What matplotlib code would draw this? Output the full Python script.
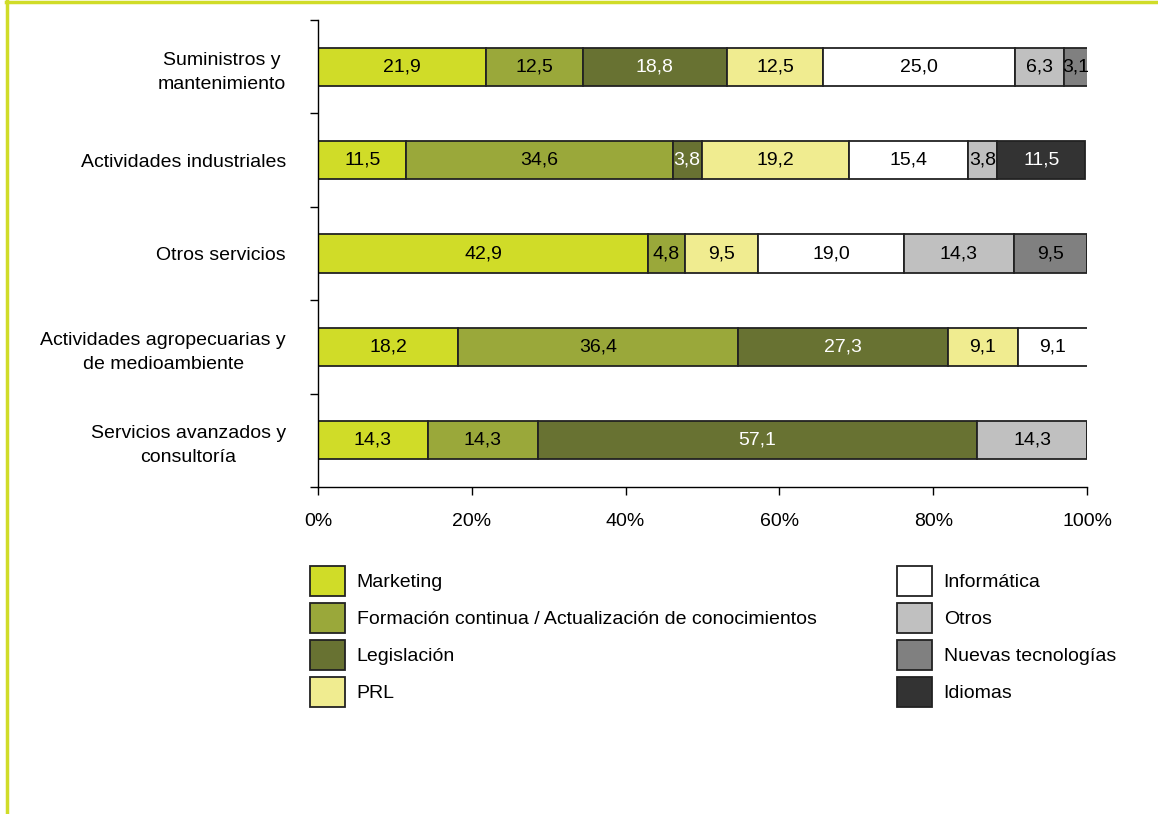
import matplotlib
matplotlib.use("Agg")
import matplotlib.pyplot as plt
import numpy as np
from matplotlib.lines import Line2D
from matplotlib.patches import Patch

plt.rcParams["font.family"] = ["Liberation Sans", "DejaVu Sans"]

categories = [
    "Suministros y\nmantenimiento",
    "Actividades industriales",
    "Otros servicios",
    "Actividades agropecuarias y\nde medioambiente",
    "Servicios avanzados y\nconsultoría",
]
series = [
    "Marketing",
    "Formación continua / Actualización de conocimientos",
    "Legislación",
    "PRL",
    "Informática",
    "Otros",
    "Nuevas tecnologías",
    "Idiomas",
]
marketing = [21.9, 11.5, 42.9, 18.2, 14.3]
formacion = [12.5, 34.6, 4.8, 36.4, 14.3]
legislacion = [18.8, 3.8, 0, 27.3, 57.1]
prl = [12.5, 19.2, 9.5, 9.1, 0]
informatica = [25.0, 15.4, 19.0, 9.1, 0]
otros = [6.3, 3.8, 14.3, 0, 14.3]
nuevas_tec = [3.1, 0, 9.5, 0, 0]
idiomas = [0, 11.5, 0, 0, 0]
values = [marketing, formacion, legislacion, prl, informatica, otros, nuevas_tec, idiomas]

colors = ["#D0DC28", "#9AA83A", "#687232", "#F0EC90", "#FFFFFF", "#C0C0C0", "#808080", "#333333"]
text_colors = ["black", "black", "white", "black", "black", "black", "black", "white"]

FS = 14

fig = plt.figure(figsize=(11.58, 8.14), dpi=100)
ax = fig.add_axes([0.2746, 0.4017, 0.6641, 0.5737])

y = np.arange(len(categories))
left = np.zeros(len(categories))
handles = []
for vals, col, tc, name in zip(values, colors, text_colors, series):
    vals = np.array(vals, dtype=float)
    bars = ax.barh(y, vals, left=left, height=0.41, color=col,
                   edgecolor="#222222", linewidth=1.3)
    for b, v, l in zip(bars, vals, left):
        if v > 0:
            ax.text(l + v / 2, b.get_y() + b.get_height() / 2,
                    f"{v:.1f}".replace(".", ","), ha="center", va="center",
                    fontsize=FS, color=tc)
    left += vals
    handles.append(Patch(facecolor=col, edgecolor="#222222", linewidth=1.3, label=name))

ax.set_xlim(0, 100)
ax.set_ylim(len(categories) - 0.5, -0.5)
ax.set_xticks(np.arange(0, 101, 20))
ax.set_xticklabels([f"{v}%" for v in range(0, 101, 20)], fontsize=FS)
ax.set_yticks(y)
ax.set_yticklabels(categories, fontsize=FS, multialignment="center", linespacing=1.55)
ax.set_yticks(np.arange(-0.5, len(categories), 1), minor=True)
ax.tick_params(axis="y", which="major", length=0, pad=23)
ax.tick_params(axis="y", which="minor", length=6, width=1, direction="out")
ax.tick_params(axis="x", length=6, width=1, direction="out", pad=13)
for s in ["top", "right"]:
    ax.spines[s].set_visible(False)
for s in ["left", "bottom"]:
    ax.spines[s].set_linewidth(1)

leg_kw = dict(frameon=False, fontsize=FS, handlelength=1.8, handleheight=2.0,
              labelspacing=0.36, handletextpad=0.6, borderpad=0, borderaxespad=0)
fig.legend(handles=handles[:4], loc="upper left",
           bbox_to_anchor=(310 / 1158, 1 - 566 / 814), **leg_kw)
fig.legend(handles=handles[4:], loc="upper left",
           bbox_to_anchor=(897 / 1158, 1 - 566 / 814), **leg_kw)

# green frame
fig.add_artist(Line2D([6 / 1158, 1], [1 - 1.5 / 814, 1 - 1.5 / 814],
                      transform=fig.transFigure, color="#D0DC28", linewidth=2.5))
fig.add_artist(Line2D([7 / 1158, 7 / 1158], [1, 1 - 812 / 814],
                      transform=fig.transFigure, color="#D0DC28", linewidth=2.5))

plt.savefig("out.png", dpi=100)
